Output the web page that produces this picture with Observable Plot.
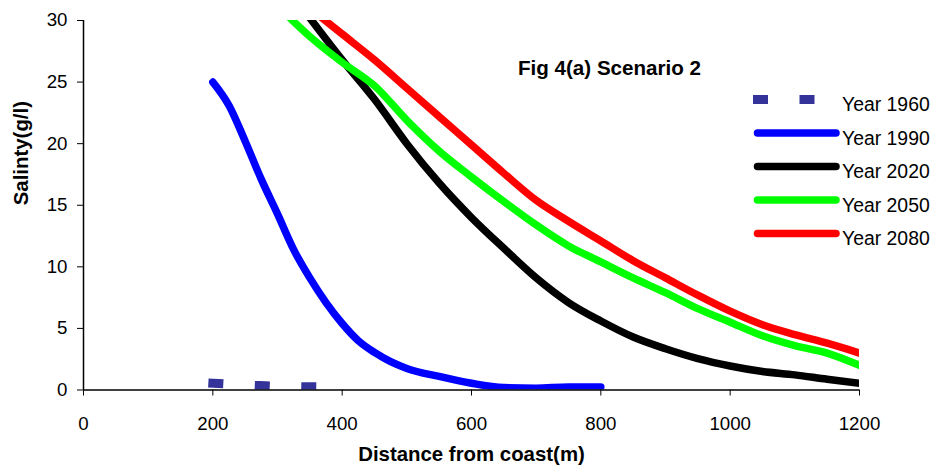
<!DOCTYPE html>
<html><head><meta charset="utf-8">
<script src="https://cdn.jsdelivr.net/npm/d3@7"></script>
<script src="https://cdn.jsdelivr.net/npm/@observablehq/plot@0.6"></script>
<style>
body{margin:0;background:#fff;}
#chart{width:937px;height:473px;}
</style></head><body><div id="chart"></div>
<script>
const seriesNames = ["Year 1960", "Year 1990", "Year 2020", "Year 2050", "Year 2080"];
const seriesColors = ["#333399", "#0000ff", "#000000", "#00ff00", "#ff0000"];

const dist1960 = [200, 250, 300, 350, 380];
const sal1960 = [0.55, 0.40, 0.30, 0.26, 0.25];

const dist1990 = [200, 225, 250, 275, 300, 325, 350, 375, 400, 425, 450, 475, 500, 550, 600, 650, 700, 750, 800];
const sal1990 = [25.0, 23.1, 20.2, 17.1, 14.3, 11.4, 9.1, 7.1, 5.4, 4.0, 3.05, 2.3, 1.75, 1.1, 0.55, 0.2, 0.15, 0.25, 0.25];

const dist2020 = [350, 400, 450, 500, 550, 600, 650, 700, 750, 800, 850, 900, 950, 1000, 1050, 1100, 1150, 1200];
const sal2020 = [30.2, 26.8, 23.6, 20.0, 16.8, 14.0, 11.5, 9.1, 7.1, 5.6, 4.3, 3.35, 2.55, 1.95, 1.5, 1.23, 0.87, 0.55];

const dist2050 = [300, 350, 400, 450, 500, 550, 600, 650, 700, 750, 800, 850, 900, 950, 1000, 1050, 1100, 1150, 1200];
const sal2050 = [31.2, 28.7, 26.6, 24.7, 21.9, 19.4, 17.3, 15.3, 13.4, 11.7, 10.4, 9.1, 7.9, 6.6, 5.5, 4.4, 3.6, 3.0, 2.0];

const dist2080 = [350, 400, 450, 500, 550, 600, 650, 700, 750, 800, 850, 900, 950, 1000, 1050, 1100, 1150, 1200];
const sal2080 = [31.0, 28.9, 26.8, 24.5, 22.2, 19.9, 17.6, 15.4, 13.7, 12.1, 10.5, 9.1, 7.7, 6.4, 5.3, 4.5, 3.8, 3.0];

const xTicks = [0, 200, 400, 600, 800, 1000, 1200];
const yTicks = [0, 5, 10, 15, 20, 25, 30];
const chartTitle = "Fig 4(a) Scenario 2";
const xTitle = "Distance from coast(m)";
const yTitle = "Salinty(g/l)";

const allDist = [dist1960, dist1990, dist2020, dist2050, dist2080];
const allSal = [sal1960, sal1990, sal2020, sal2050, sal2080];
const rows = (i) => allDist[i].map((d, k) => ({series: seriesNames[i], x: d, y: allSal[i][k]}));

const font = "'Liberation Sans', Arial, sans-serif";

const plot = Plot.plot({
  width: 937, height: 473,
  marginLeft: 83, marginRight: 78, marginTop: 20, marginBottom: 83.5,
  style: {fontFamily: font, fontSize: "18.7px", color: "#000", background: "#fff", overflow: "visible"},
  x: {domain: [0, 1200], ticks: xTicks, tickSize: 6, tickPadding: 21, label: null, tickFormat: "d"},
  y: {domain: [0, 30], ticks: yTicks, tickSize: 6, tickPadding: 10, label: null, tickFormat: "d"},
  marks: [
    Plot.line(rows(0), {x: "x", y: "y", stroke: seriesColors[0], strokeWidth: 9, strokeDasharray: "6,40.5", strokeLinecap: "square", clip: true}),
    ...[1, 2, 3, 4].map(i => Plot.line(rows(i), {x: "x", y: "y", curve: "monotone-x", stroke: seriesColors[i], strokeWidth: 7.5, strokeLinecap: "round", strokeLinejoin: "round", clip: true})),
    Plot.ruleY([0], {stroke: "#000", strokeWidth: 1.5}),
    Plot.ruleX([0], {stroke: "#000", strokeWidth: 1.5}),
    Plot.text([chartTitle], {frameAnchor: "top", dx: 138, dy: 40, fontWeight: "bold", fontSize: 20.6}),
    Plot.text([xTitle], {frameAnchor: "bottom", dy: 71, fontWeight: "bold", fontSize: 20.4}),
    Plot.text([yTitle], {frameAnchor: "left", rotate: -90, dx: -62, fontWeight: "bold", fontSize: 20.4})
  ]
});

// Legend inside the plot area (upper right)
const svg = d3.select(plot);
const lg = svg.append("g").attr("font-family", font).attr("font-size", "19.4px").attr("text-anchor", "start");
seriesNames.forEach((name, i) => {
  const yy = 99.5 + i * 33.5;
  const ln = lg.append("line").attr("x1", 757.5).attr("x2", 836).attr("y1", yy).attr("y2", yy)
    .attr("stroke", seriesColors[i]);
  if (i === 0) ln.attr("stroke-width", 9).attr("stroke-dasharray", "6,40.5").attr("stroke-linecap", "square");
  else ln.attr("stroke-width", 7.5).attr("stroke-linecap", "round");
  lg.append("text").attr("x", 842).attr("y", yy + 11.5).attr("fill", "#000").attr("text-anchor", "start").text(name);
});

document.getElementById("chart").appendChild(plot);
</script>
</body></html>
